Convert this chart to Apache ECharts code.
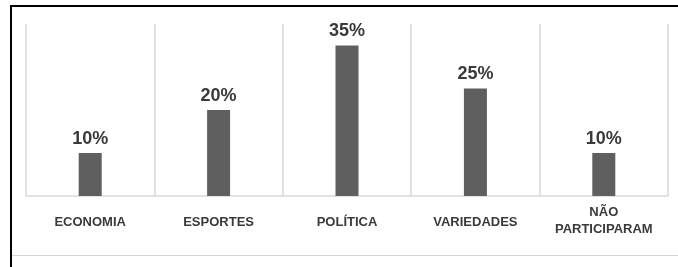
<!DOCTYPE html>
<html>
<head>
<meta charset="utf-8">
<script src="https://cdn.jsdelivr.net/npm/echarts@6/dist/echarts.min.js"></script>
<style>
  html, body { margin: 0; padding: 0; background: #fff; }
  #chart { width: 678px; height: 267px; }
</style>
</head>
<body>
<div id="chart"></div>
<script>
const categories = ['ECONOMIA', 'ESPORTES', 'POLÍTICA', 'VARIEDADES', 'NÃO\nPARTICIPARAM'];
const values = [10, 20, 35, 25, 10];

const chart = echarts.init(document.getElementById('chart'));

chart.setOption({
  animation: false,
  grid: { left: 26, right: 10, top: 24, bottom: 71, containLabel: false },
  graphic: [
    // frame around the picture
    { type: 'line', shape: { x1: 10, y1: 6, x2: 678, y2: 6 }, style: { stroke: '#000', lineWidth: 2 } },
    { type: 'line', shape: { x1: 11, y1: 5, x2: 11, y2: 267 }, style: { stroke: '#000', lineWidth: 2 } },
    { type: 'line', shape: { x1: 12, y1: 255.5, x2: 678, y2: 255.5 }, style: { stroke: '#d4d4d4', lineWidth: 1 } }
  ],
  xAxis: {
    type: 'category',
    data: categories.map((c, i) => i === 4
      ? { value: c, textStyle: { padding: [-10, 0, 0, 0] } }
      : c),
    axisTick: { show: false },
    axisLine: { lineStyle: { color: '#d9d9d9', width: 1.5 } },
    splitLine: { show: true, lineStyle: { color: '#d9d9d9', width: 1.5 } },
    axisLabel: {
      interval: 0,
      margin: 18,
      color: '#3a3a3a',
      fontFamily: 'Liberation Sans Narrow, Liberation Sans, sans-serif',
      fontWeight: 'bold',
      fontSize: 13,
      lineHeight: 17
    }
  },
  yAxis: {
    type: 'value',
    min: 0,
    max: 40,
    interval: 10,
    show: false,
    splitLine: { show: false }
  },
  series: [{
    type: 'bar',
    data: values,
    barWidth: 23,
    itemStyle: { color: '#5f5f5f' },
    label: {
      show: true,
      position: 'top',
      distance: 5,
      formatter: '{c}%',
      color: '#3a3a3a',
      fontFamily: 'Liberation Sans, sans-serif',
      fontWeight: 'bold',
      fontSize: 18
    }
  }]
});
</script>
</body>
</html>
